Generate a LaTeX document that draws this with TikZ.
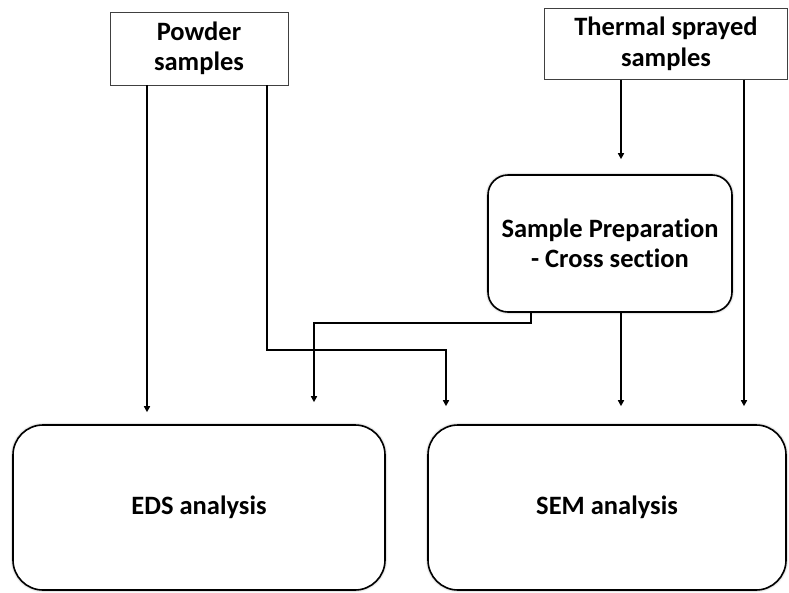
\documentclass[tikz,border=0pt]{standalone}
\usepackage{fontspec}
\setmainfont{Carlito}[Ligatures=NoCommon]
\usetikzlibrary{arrows.meta,shadows.blur}

\begin{document}
\begin{tikzpicture}[x=1pt,y=-1pt,
  label text/.style={font=\bfseries\fontsize{26.5}{30.5}\selectfont, align=center, text=black},
  sourcebox/.style={draw=black!75, line width=0.9pt, fill=white, rectangle, inner sep=0pt, label text},
  stagebox/.style={draw=black, line width=1.6pt, fill=white, rounded corners=#1, inner sep=0pt, label text,
    blur shadow={shadow xshift=0pt, shadow yshift=0pt, shadow blur radius=2.5pt, shadow opacity=50}},
  conn/.style={draw=black, line width=1.5pt, -{Triangle[width=6pt,length=6pt]}}
]
\useasboundingbox (0,0) rectangle (789,592);

% source boxes
\node[sourcebox, minimum width=178pt, minimum height=73pt] (powder) at (199,48.5) {Powder\\samples};
\node[sourcebox, minimum width=243pt, minimum height=71pt] (thermal) at (666,44) {Thermal sprayed\\samples};

% processing and analysis boxes
\node[stagebox=20pt, minimum width=244pt, minimum height=137pt] (prep) at (610,243.5) {Sample Preparation\\- Cross section};
\node[stagebox=30pt, minimum width=372pt, minimum height=165pt] (eds) at (199,507.5) {EDS analysis};
\node[stagebox=30pt, minimum width=358pt, minimum height=165pt] (sem) at (607,507.5) {SEM analysis};

% bend points of the routed connectors
\coordinate (pa) at (147,0);
\coordinate (pb) at (267,350);
\coordinate (pc) at (446,350);
\coordinate (sa) at (531,323);
\coordinate (sb) at (314,323);
\coordinate (ta) at (621,0);
\coordinate (tb) at (744,0);

% connectors
\draw[conn, shorten >=12pt] (powder.south -| pa) -- (eds.north -| pa);
\draw[conn, shorten >=18pt] (powder.south -| pb) |- (pc) -- (sem.north -| pc);
\draw[conn, shorten >=22pt] (prep.south -| sa) |- (sb) -- (eds.north -| sb);
\draw[conn, shorten >=18pt] (prep.south -| ta) -- (sem.north -| ta);
\draw[conn, shorten >=15pt] (thermal.south -| ta) -- (prep.north -| ta);
\draw[conn, shorten >=18pt] (thermal.south -| tb) -- (sem.north -| tb);
\end{tikzpicture}
\end{document}
